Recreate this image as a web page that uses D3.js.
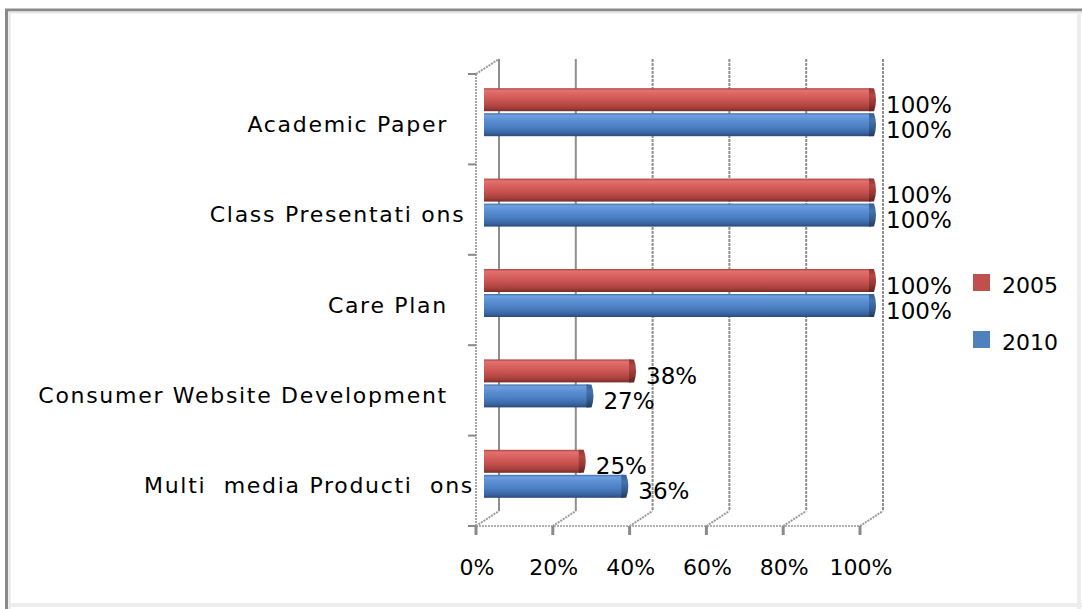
<!DOCTYPE html>
<html>
<head>
<meta charset="utf-8">
<script src="https://cdn.jsdelivr.net/npm/d3@7"></script>
<style>
  html, body { margin: 0; padding: 0; background: #fff; }
  svg { display: block; }
  text { font-family: "DejaVu Sans", sans-serif; fill: #000; }
</style>
</head>
<body>
<svg id="chart" width="1082" height="609"></svg>
<script>
// ---- data ----
const categories = ["Academic Paper   ", "Class Presentati ons ", "Care Plan   ", "Consumer Website Development   ", "Multi  media Producti  ons"];
const series2005 = [100, 100, 100, 38, 25];
const series2010 = [100, 100, 100, 27, 36];
const seriesNames = ["2005", "2010"];
const xTicks = [0, 20, 40, 60, 80, 100];
const xTickLabels = ["0%", "20%", "40%", "60%", "80%", "100%"];

const svg = d3.select("#chart");
const defs = svg.append("defs");

function grad(id, stops) {
  const g = defs.append("linearGradient").attr("id", id)
    .attr("x1", 0).attr("y1", 0).attr("x2", 0).attr("y2", 1);
  stops.forEach(s => g.append("stop").attr("offset", s[0]).attr("stop-color", s[1]));
}
grad("gRed", [[0, "#a84441"], [0.1, "#e2726f"], [0.3, "#d9625f"], [0.6, "#c4504d"], [0.85, "#a53f3c"], [1, "#7a2d2b"]]);
grad("gBlue", [[0, "#4571a8"], [0.1, "#6d9fe0"], [0.3, "#5c8fd3"], [0.6, "#4a7fc2"], [0.85, "#3a66a3"], [1, "#294a78"]]);
grad("gRedCap", [[0, "#8f3532"], [0.3, "#b34744"], [0.7, "#8f3532"], [1, "#5f2220"]]);
grad("gBlueCap", [[0, "#365f96"], [0.3, "#4573ae"], [0.7, "#335a8d"], [1, "#21395c"]]);

// frame
svg.append("line").attr("x1", 5).attr("y1", 10).attr("x2", 1082).attr("y2", 10)
  .attr("stroke", "#8a8a8a").attr("stroke-width", 3);
svg.append("line").attr("x1", 6.5).attr("y1", 9).attr("x2", 6.5).attr("y2", 609)
  .attr("stroke", "#8a8a8a").attr("stroke-width", 3);
svg.append("line").attr("x1", 9).attr("y1", 12.5).attr("x2", 1082).attr("y2", 12.5)
  .attr("stroke", "#e6e6e6").attr("stroke-width", 2);
svg.append("line").attr("x1", 9.5).attr("y1", 12).attr("x2", 9.5).attr("y2", 609)
  .attr("stroke", "#e6e6e6").attr("stroke-width", 2);
svg.append("line").attr("x1", 10).attr("y1", 605).attr("x2", 1082).attr("y2", 605)
  .attr("stroke", "#ededed").attr("stroke-width", 4);
svg.append("line").attr("x1", 1079).attr("y1", 14).attr("x2", 1079).attr("y2", 609)
  .attr("stroke", "#ededed").attr("stroke-width", 4);

// ---- scales ----
const xFront = d3.scaleLinear().domain([0, 100]).range([476, 860]);
const xBar = d3.scaleLinear().domain([0, 100]).range([484, 871]);
const yFront = d3.scaleBand().domain(categories).range([74, 526]);
const dx = 23, dy = -15;
const floorY = yFront.range()[1];
const topY = yFront.range()[0];
const barH = 23;

// back wall gridlines + floor diagonals
xTicks.forEach((t, i) => {
  svg.append("line")
    .attr("x1", xFront(t) + dx).attr("x2", xFront(t) + dx)
    .attr("y1", topY + dy).attr("y2", floorY + dy)
    .attr("stroke", "#8e8e8e")
    .attr("stroke-width", 2)
    .attr("stroke-dasharray", i === 0 || i === 1 ? null : "3,1");
  svg.append("line")
    .attr("x1", xFront(t)).attr("y1", floorY)
    .attr("x2", xFront(t) + dx).attr("y2", floorY + dy)
    .attr("stroke", "#9a9a9a").attr("stroke-width", 2).attr("stroke-dasharray", "2,1");
});
svg.append("line").attr("x1", xFront(0)).attr("x2", xFront(100))
  .attr("y1", floorY).attr("y2", floorY)
  .attr("stroke", "#b0b0b0").attr("stroke-width", 2).attr("stroke-dasharray", "2,1");

// left wall
svg.append("line").attr("x1", xFront(0)).attr("x2", xFront(0))
  .attr("y1", topY).attr("y2", floorY)
  .attr("stroke", "#a5a5a5").attr("stroke-width", 2).attr("stroke-dasharray", "2,1");
svg.append("line").attr("x1", xFront(0)).attr("y1", topY)
  .attr("x2", xFront(0) + dx).attr("y2", topY + dy)
  .attr("stroke", "#9a9a9a").attr("stroke-width", 2).attr("stroke-dasharray", "2,1");
const boundaries = categories.map(c => yFront(c)).concat([floorY]);
boundaries.forEach(b => {
  svg.append("line").attr("x1", xFront(0) - 8).attr("x2", xFront(0))
    .attr("y1", b).attr("y2", b)
    .attr("stroke", "#8a8a8a").attr("stroke-width", 2);
});

// x axis ticks + labels
xTicks.forEach((t, i) => {
  svg.append("line").attr("x1", xFront(t)).attr("x2", xFront(t))
    .attr("y1", floorY).attr("y2", floorY + 9)
    .attr("stroke", "#8a8a8a").attr("stroke-width", 3);
  svg.append("text").attr("x", xFront(t) + 1).attr("y", 567)
    .attr("text-anchor", "middle").attr("dominant-baseline", "central")
    .attr("font-size", 22)
    .text(xTickLabels[i]);
});

// category labels
categories.forEach(c => {
  svg.append("text")
    .attr("x", xFront(0) - 2)
    .attr("y", yFront(c) + yFront.bandwidth() / 2 + 5)
    .attr("text-anchor", "end").attr("dominant-baseline", "central")
    .attr("font-size", 22).attr("letter-spacing", 1.7)
    .style("white-space", "pre")
    .text(c);
});

// bars
const seriesData = [series2005, series2010];
const fills = ["url(#gRed)", "url(#gBlue)"];
const caps = ["url(#gRedCap)", "url(#gBlueCap)"];
seriesData.forEach((vals, s) => {
  const g = svg.append("g");
  vals.forEach((v, i) => {
    const c = categories[i];
    const mid = yFront(c) + yFront.bandwidth() / 2 + dy / 2;
    const y0 = s === 0 ? mid - barH - 0.5 : mid + 1.5;
    const x1 = xBar(v);
    g.append("rect").attr("x", xBar(0)).attr("y", y0)
      .attr("width", x1 - xBar(0)).attr("height", barH)
      .attr("fill", fills[s]);
    g.append("path")
      .attr("d", `M${x1 - 2},${y0} L${x1 + 3},${y0} Q${x1 + 7},${y0 + barH / 2} ${x1 + 3},${y0 + barH} L${x1 - 2},${y0 + barH} Z`)
      .attr("fill", caps[s]);
    g.append("text").attr("x", x1 + 15).attr("y", y0 + barH / 2 + 5)
      .attr("dominant-baseline", "central")
      .attr("font-size", 23)
      .text(v + "%");
  });
});

// legend
const legColors = ["#c0504d", "#4f81bd"];
seriesNames.forEach((n, i) => {
  const ly = 274 + i * 57;
  svg.append("rect").attr("x", 973).attr("y", ly).attr("width", 17).attr("height", 17)
    .attr("fill", legColors[i]);
  svg.append("text").attr("x", 1002).attr("y", ly + 11)
    .attr("dominant-baseline", "central")
    .attr("font-size", 22)
    .text(n);
});
</script>
</body>
</html>
